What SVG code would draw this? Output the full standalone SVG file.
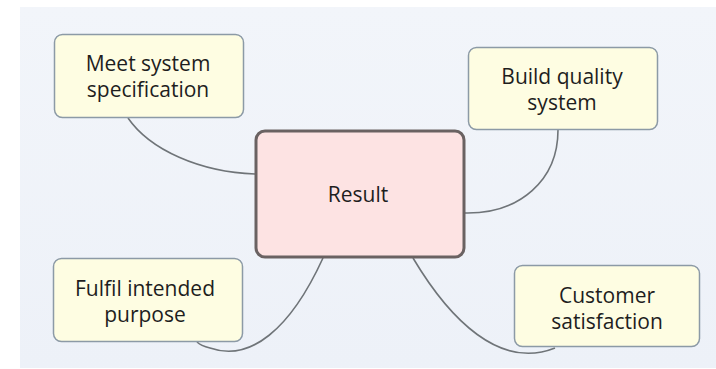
<svg xmlns="http://www.w3.org/2000/svg" width="716" height="369" viewBox="0 0 716 369">
<defs>
<linearGradient id="bg" x1="0" y1="0" x2="0" y2="1">
<stop offset="0" stop-color="#f2f5fa"/>
<stop offset="1" stop-color="#edf1f8"/>
</linearGradient>
</defs>
<style>
.topic rect{fill:#fefde2;stroke:#8c9aa6;stroke-width:1.5}
.central rect{fill:#fde3e3;stroke:#6a6262;stroke-width:3}
text{font-family:"Open Sans","Liberation Sans",sans-serif;font-size:21px;fill:#1e1e1e;text-anchor:middle}
.conn path{fill:none;stroke:#6f7478;stroke-width:1.6}
</style>
<rect x="0" y="0" width="716" height="369" fill="#ffffff"/>
<rect x="20" y="7" width="696" height="361" fill="url(#bg)"/>
<g class="conn" id="connectors">
<path d="M128,118 C150,150 200,172 255,174"/>
<path d="M558,130 C558,180 520,214 465,213"/>
<path d="M323,258 C290,330 250,362 210,348 C202,346 199,344 197,342"/>
<path d="M413,258 C450,320 500,370 555,348"/>
</g>
<g id="node-meet" class="topic">
<rect x="54.5" y="34.5" width="189" height="83" rx="8"/>
<text x="148" y="71">Meet system</text>
<text x="148" y="97">specification</text>
</g>
<g id="node-build" class="topic">
<rect x="468.5" y="47.5" width="189" height="82" rx="8"/>
<text x="562" y="84">Build quality</text>
<text x="562" y="110">system</text>
</g>
<g id="node-result" class="central">
<rect x="256" y="131" width="208" height="126" rx="9"/>
<text x="358" y="202">Result</text>
</g>
<g id="node-fulfil" class="topic">
<rect x="53.5" y="258.5" width="189" height="83" rx="8"/>
<text x="145" y="296">Fulfil intended</text>
<text x="145" y="322">purpose</text>
</g>
<g id="node-customer" class="topic">
<rect x="514.5" y="265.5" width="185" height="81" rx="8"/>
<text x="607" y="303">Customer</text>
<text x="607" y="329">satisfaction</text>
</g>
</svg>
